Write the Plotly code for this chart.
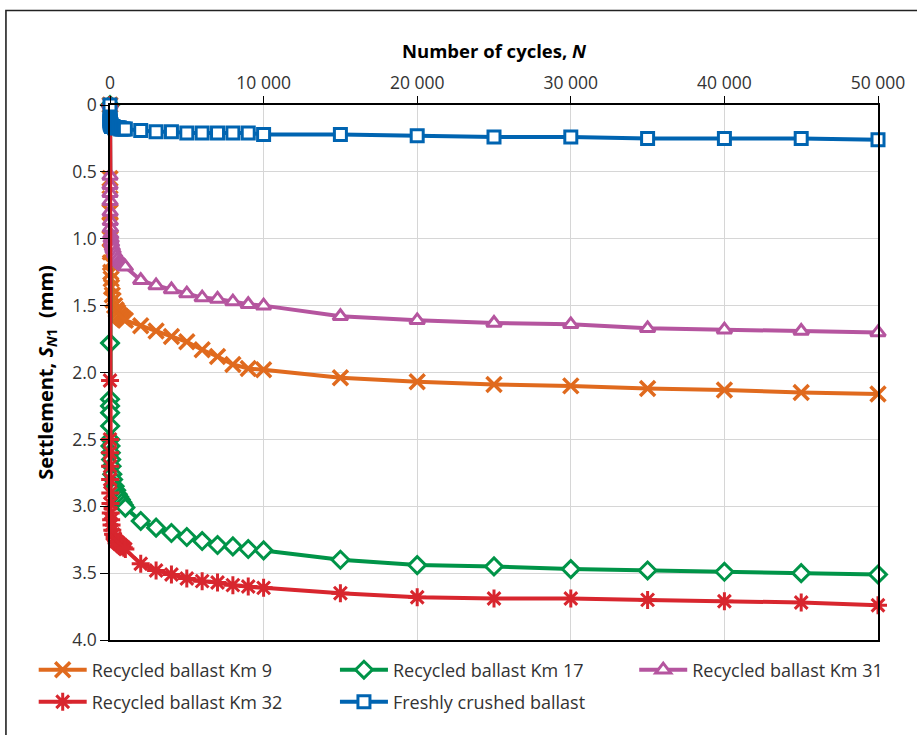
import plotly.graph_objects as go

cycles = [0, 1, 2, 3, 5, 10, 20, 30, 50, 75, 100, 150, 200, 300, 400, 500, 600, 700, 800, 900, 1000,
          2000, 3000, 4000, 5000, 6000, 7000, 8000, 9000, 10000,
          15000, 20000, 25000, 30000, 35000, 40000, 45000, 50000]

km9 = [0, 0.55, 0.70, 0.80, 0.90, 1.00, 1.10, 1.18, 1.25, 1.30, 1.36, 1.42, 1.46, 1.50, 1.53, 1.55, 1.57, 1.58, 1.59, 1.60, 1.61,
       1.65, 1.69, 1.73, 1.77, 1.83, 1.88, 1.94, 1.97, 1.98,
       2.04, 2.07, 2.09, 2.10, 2.12, 2.13, 2.15, 2.16]
km17 = [0, 1.78, 2.20, 2.25, 2.30, 2.40, 2.50, 2.55, 2.60, 2.65, 2.70, 2.76, 2.80, 2.85, 2.88, 2.91, 2.93, 2.95, 2.97, 2.99, 3.01,
        3.11, 3.16, 3.20, 3.23, 3.26, 3.29, 3.30, 3.32, 3.33,
        3.40, 3.44, 3.45, 3.47, 3.48, 3.49, 3.50, 3.51]
km31 = [0, 0.53, 0.60, 0.66, 0.72, 0.80, 0.87, 0.92, 0.97, 1.00, 1.03, 1.06, 1.08, 1.11, 1.13, 1.15, 1.17, 1.18, 1.19, 1.20, 1.21,
        1.31, 1.35, 1.38, 1.41, 1.44, 1.45, 1.47, 1.49, 1.50,
        1.58, 1.61, 1.63, 1.64, 1.67, 1.68, 1.69, 1.70]
km32 = [0, 2.06, 2.50, 2.60, 2.70, 2.80, 2.90, 2.98, 3.05, 3.10, 3.14, 3.18, 3.21, 3.24, 3.26, 3.27, 3.28, 3.29, 3.30, 3.31, 3.32,
        3.43, 3.48, 3.51, 3.54, 3.56, 3.57, 3.59, 3.60, 3.61,
        3.65, 3.68, 3.69, 3.69, 3.70, 3.71, 3.72, 3.74]
fresh = [0, 0.10, 0.11, 0.12, 0.12, 0.13, 0.14, 0.14, 0.15, 0.15, 0.16, 0.16, 0.16, 0.17, 0.17, 0.17, 0.17, 0.18, 0.18, 0.18, 0.18,
         0.19, 0.20, 0.20, 0.21, 0.21, 0.21, 0.21, 0.21, 0.22,
         0.22, 0.23, 0.24, 0.24, 0.25, 0.25, 0.25, 0.26]

series_names = ["Recycled ballast Km 9", "Recycled ballast Km 17", "Recycled ballast Km 31",
                "Recycled ballast Km 32", "Freshly crushed ballast"]
series_values = [km9, km17, km31, km32, fresh]
colors = ["#E06A1E", "#009448", "#B5559F", "#D8262E", "#0064B1"]
symbols = ["x-thin", "diamond", "triangle-up", "asterisk", "square"]
sizes = [15, 13, 13, 15, 12]
fills = [None, "white", "white", None, "white"]
mlw = [3.5, 3, 3, 3, 3]
legend_ids = ["legend", "legend2", "legend3", "legend4", "legend5"]
# legend item pixel anchors (symbol left x, row centre y)
legend_px = [(33, 670), (337, 670), (639, 670), (33, 702), (337, 702)]

x_tickvals = [0, 10000, 20000, 30000, 40000, 50000]
x_ticktext = ["0", "10 000", "20 000", "30 000", "40 000", "50 000"]
y_tickvals = [0, 0.5, 1.0, 1.5, 2.0, 2.5, 3.0, 3.5, 4.0]
y_ticktext = ["0", "0.5", "1.0", "1.5", "2.0", "2.5", "3.0", "3.5", "4.0"]

fig = go.Figure()
for name, vals, c, s, sz, f, lw, lg in zip(series_names, series_values, colors, symbols, sizes, fills, mlw, legend_ids):
    fig.add_trace(go.Scatter(
        x=cycles, y=vals, name=name, mode="lines+markers",
        line=dict(color=c, width=4),
        marker=dict(symbol=s, size=sz, color=f if f else c, line=dict(color=c, width=lw)),
        cliponaxis=False, legend=lg,
    ))

W, H = 917, 735
ml, mr, mt, mb = 110, 32, 105, 95
pw, ph = W - ml - mr, H - mt - mb

def px_x(p):
    return (p - ml) / pw

def px_y(p):
    return (H - mb - p) / ph

legends = {}
for lg, (lx, ly) in zip(legend_ids, legend_px):
    legends[lg] = dict(
        orientation="h", xanchor="left", yanchor="middle",
        x=px_x(lx), y=px_y(ly), itemwidth=48,
        font=dict(family="Open Sans", size=18, color="#333333"),
        bgcolor="rgba(0,0,0,0)",
    )

fig.update_layout(
    width=W, height=H,
    margin=dict(l=ml, r=mr, t=mt, b=mb),
    paper_bgcolor="white", plot_bgcolor="white",
    font=dict(family="Open Sans", size=17.5, color="#333333"),
    showlegend=True,
    xaxis=dict(
        side="top", range=[0, 50000], tickvals=x_tickvals, ticktext=x_ticktext,
        showgrid=True, gridcolor="#d6d6d6", gridwidth=1.2,
        showline=True, linecolor="black", linewidth=1.5, mirror=True,
        ticks="outside", ticklen=7, tickcolor="black", tickwidth=1.3,
        zeroline=False,
        title=dict(text="<b>Number of cycles, <i>N</i></b>", font=dict(size=18.5, color="black"), standoff=7),
    ),
    yaxis=dict(
        range=[4.0, 0], tickvals=y_tickvals, ticktext=y_ticktext,
        showgrid=True, gridcolor="#d6d6d6", gridwidth=1.2,
        showline=True, linecolor="black", linewidth=1.5, mirror=True,
        ticks="outside", ticklen=8, tickcolor="black", tickwidth=1.3,
        zeroline=False,
        title=dict(text="<b>Settlement, <i>S</i><sub><i>N</i>1</sub>  (mm)</b>", font=dict(size=20, color="black"), standoff=13),
    ),
    shapes=[dict(type="rect", xref="paper", yref="paper",
                 x0=px_x(5), x1=px_x(940), y0=px_y(760), y1=px_y(10.5),
                 line=dict(color="#222222", width=1.6), fillcolor="rgba(0,0,0,0)", layer="below")],
    **legends,
)

fig.write_html("out.html")
